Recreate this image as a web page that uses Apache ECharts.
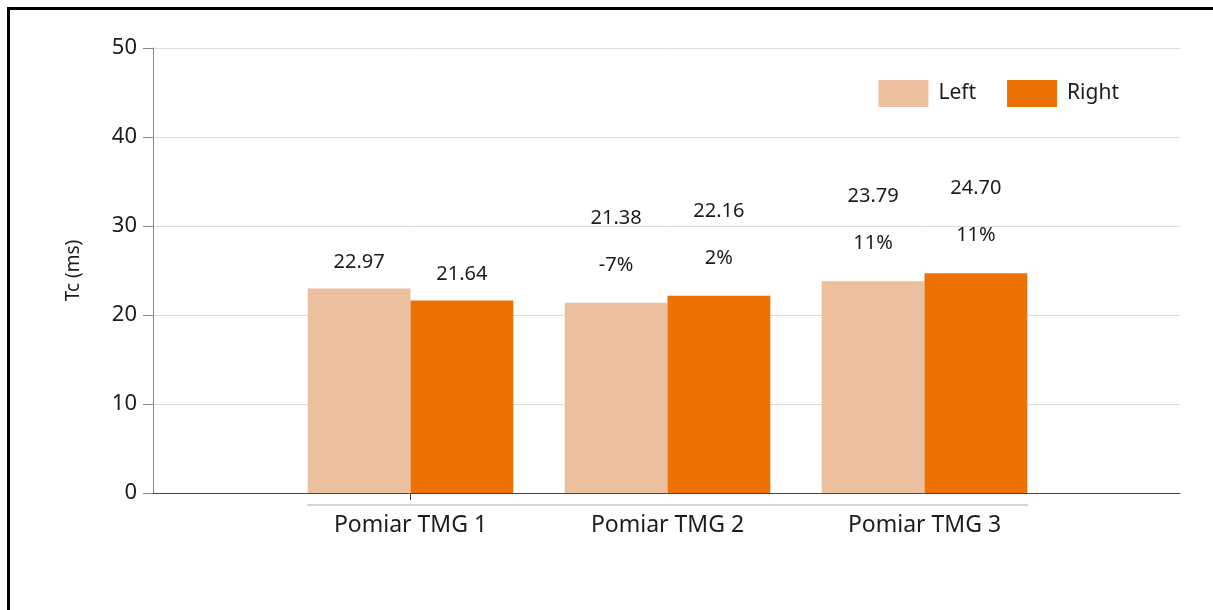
<!DOCTYPE html>
<html>
<head>
<meta charset="utf-8">
<script src="https://cdn.jsdelivr.net/npm/echarts@6/dist/echarts.min.js"></script>
<style>
    html, body { margin: 0; padding: 0; background: #fff; }
    #frame { position: absolute; left: 7px; top: 7px; width: 1206px; height: 603px;
             border-left: 3px solid #000; border-top: 3px solid #000; box-sizing: border-box; }
    #main { position: absolute; left: 0; top: 0; width: 1213px; height: 610px; }
</style>
</head>
<body>
<div id="frame"></div>
<div id="main"></div>
<script>
// dane wykresu
var categories = ['Pomiar TMG 1', 'Pomiar TMG 2', 'Pomiar TMG 3'];
var leftValues = [22.97, 21.38, 23.79];
var rightValues = [21.64, 22.16, 24.70];
var leftChange = ['', '-7%', '11%'];
var rightChange = ['', '2%', '11%'];
var yTicks = [0, 10, 20, 30, 40, 50];

var FONT = 'Noto Sans';
var TXT = '#1c1c1c';

function buildData(values, changes) {
    var out = [];
    for (var i = 0; i < values.length; i++) {
        var item = { value: values[i] };
        if (changes[i]) {
            item.label = {
                formatter: '{v|' + values[i].toFixed(2) + '}\n{p|' + changes[i] + '}',
                distance: 14
            };
        } else {
            item.label = {
                formatter: values[i].toFixed(2),
                lineHeight: 24,
                distance: 14
            };
        }
        out.push(item);
    }
    return out;
}

var labelCfg = {
    show: true,
    position: 'top',
    color: TXT,
    fontFamily: FONT,
    fontSize: 20,
    rich: {
        v: { fontFamily: FONT, fontSize: 20, color: TXT, lineHeight: 47 },
        p: { fontFamily: FONT, fontSize: 20, color: TXT, lineHeight: 47 }
    }
};

var myChart = echarts.init(document.getElementById('main'));
var option = {
    animation: false,
    textStyle: { fontFamily: FONT },
    legend: {
        data: ['Left', 'Right'],
        icon: 'rect',
        right: 89,
        top: 75,
        itemWidth: 50,
        itemHeight: 27,
        itemGap: 31,
        textStyle: { fontSize: 21, color: TXT, fontFamily: FONT, padding: [0, 0, 0, 5] }
    },
    grid: [
        { left: 153, right: 33, top: 48, bottom: 117 },   // osie
        { left: 282, right: 160, top: 48, bottom: 117 },  // slupki
        { left: 308, right: 186, top: 48, bottom: 117 }   // jasna linia pod osia
    ],
    xAxis: [
        {
            gridIndex: 0, type: 'value', min: 0, max: 1,
            axisLine: { show: true, onZero: false, lineStyle: { color: '#444', width: 1 } },
            axisTick: { show: false }, axisLabel: { show: false }, splitLine: { show: false }
        },
        {
            gridIndex: 1, type: 'category', data: categories,
            axisLine: { show: false, onZero: false },
            axisTick: {
                show: true, alignWithLabel: true, length: 7,
                interval: function (i) { return i === 0; },
                lineStyle: { color: '#444' }
            },
            axisLabel: { margin: 21, fontSize: 23, color: TXT, fontFamily: FONT }
        },
        {
            gridIndex: 2, type: 'category', data: categories, offset: 12,
            axisLine: { show: true, onZero: false, lineStyle: { color: '#d4d4d4', width: 2 } },
            axisTick: { show: false }, axisLabel: { show: false }
        }
    ],
    yAxis: [
        {
            gridIndex: 0, type: 'value', min: yTicks[0], max: yTicks[yTicks.length - 1], interval: 10,
            name: 'Tc (ms)', nameLocation: 'middle', nameGap: 70, nameRotate: 90,
            nameTextStyle: { fontSize: 19, color: TXT, fontFamily: FONT },
            axisLine: { show: true, lineStyle: { color: '#888' } },
            axisTick: { show: true, length: 10, lineStyle: { color: '#888' } },
            axisLabel: { margin: 16, fontSize: 22, color: TXT, fontFamily: FONT },
            splitLine: { show: true, lineStyle: { color: '#dcdcdc' } }
        },
        {
            gridIndex: 1, type: 'value', min: yTicks[0], max: yTicks[yTicks.length - 1], show: false
        },
        {
            gridIndex: 2, type: 'value', min: 0, max: 50, show: false
        }
    ],
    series: [
        {
            name: 'Left', type: 'bar', xAxisIndex: 1, yAxisIndex: 1,
            barGap: '0%', barCategoryGap: '20%',
            itemStyle: { color: '#ECC09E' },
            label: labelCfg,
            data: buildData(leftValues, leftChange)
        },
        {
            name: 'Right', type: 'bar', xAxisIndex: 1, yAxisIndex: 1,
            barGap: '0%', barCategoryGap: '20%',
            itemStyle: { color: '#EC7206' },
            label: labelCfg,
            data: buildData(rightValues, rightChange)
        }
    ]
};
myChart.setOption(option);
</script>
</body>
</html>
